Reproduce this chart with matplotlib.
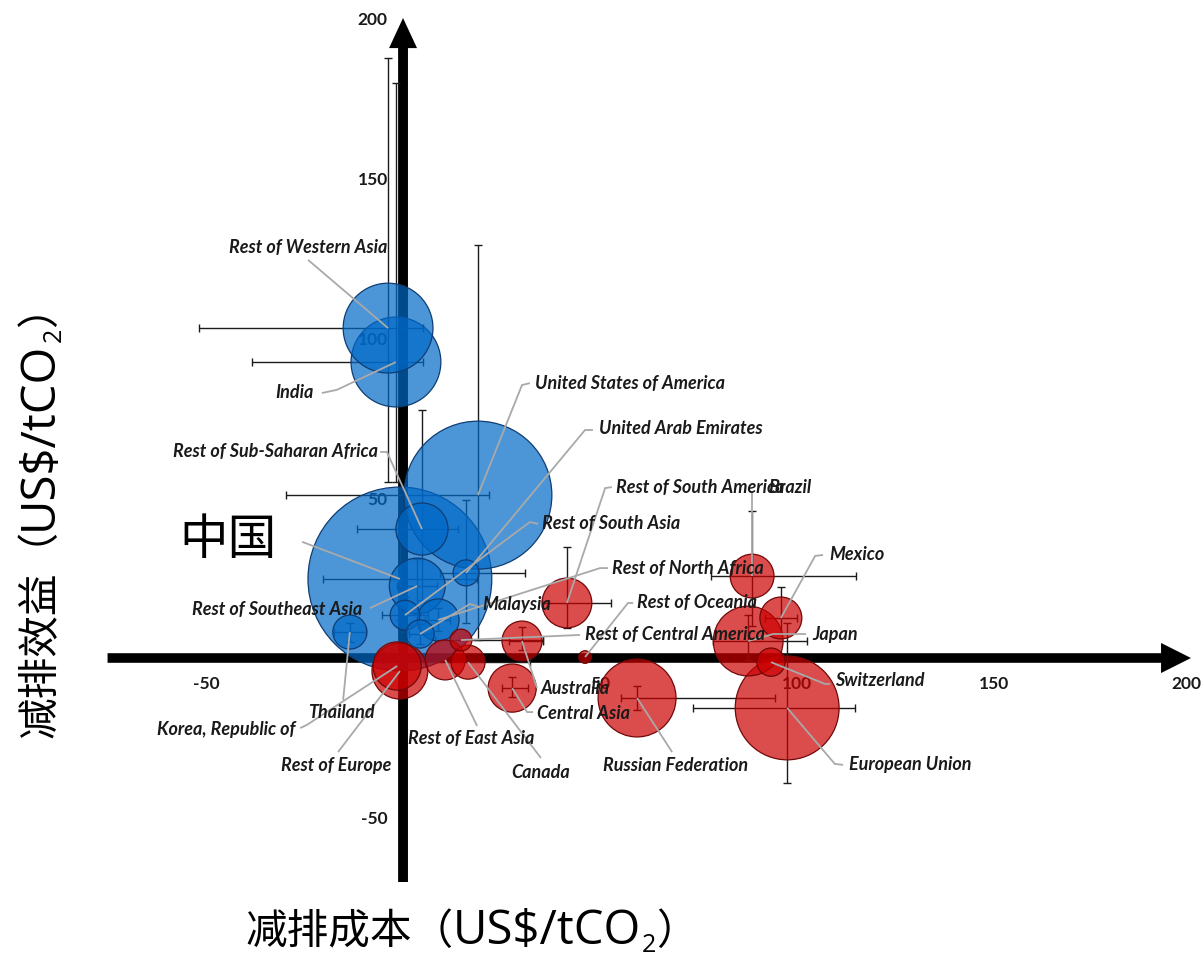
import numpy as np
import matplotlib
matplotlib.use("Agg")
import matplotlib.pyplot as plt
from matplotlib.transforms import ScaledTranslation

plt.rcParams["axes.unicode_minus"] = False

# ---------------------------------------------------------------- data
regions = [
    "Rest of Western Asia", "India", "United States of America", "中国",
    "Rest of Sub-Saharan Africa", "Rest of Southeast Asia", "United Arab Emirates",
    "Rest of South Asia", "Rest of North Africa", "Malaysia", "Thailand",
    "Korea, Republic of", "Rest of Europe", "Rest of East Asia", "Canada",
    "Rest of Central America", "Australia", "Central Asia", "Rest of Oceania",
    "Rest of South America", "Brazil", "Mexico", "Japan", "Switzerland",
    "Russian Federation", "European Union",
]

# abatement cost (US$/tCO2)
cost = [-3.8, -1.8, 19.0, -0.8, 4.8, 3.6, 16.0, 0.5, 8.9, 4.3, -13.5,
        -1.5, -0.8, 10.7, 16.5, 14.7, 30.2, 27.7, 46.2, 41.6, 88.6,
        95.9, 87.6, 93.4, 59.4, 97.5]
cost_low = [-51.8, -38.3, -29.7, -20.3, -11.7, -1.5, 9.4, -5.3, 5.5, 1.5, -17.5,
            np.nan, np.nan, np.nan, 2.5, 8.0, 27.0, 25.0, np.nan, 35.3, 78.2,
            92.0, 78.7, np.nan, 55.3, 73.6]
cost_high = [5.0, 5.0, 21.8, 18.8, 14.0, 8.5, 31.0, 6.3, 12.0, 7.0, -9.5,
             np.nan, np.nan, np.nan, 32.2, 35.5, 35.5, 31.7, np.nan, 52.8, 115.0,
             100.0, 102.5, np.nan, 94.4, 114.7]

# abatement benefit (US$/tCO2)
benefit = [103.1, 92.5, 50.9, 24.7, 40.3, 22.5, 26.6, 13.4, 11.9, 7.5, 8.1,
           -2.5, -4.1, -0.6, -1.3, 5.6, 5.3, -9.4, 0.3, 17.2, 25.6,
           12.5, 5.3, -1.3, -12.5, -15.6]
benefit_low = [55.0, 55.0, 5.6, 12.0, 18.0, 14.0, 10.9, 8.0, 8.5, 4.5, 5.0,
               np.nan, np.nan, np.nan, np.nan, np.nan, 2.5, -12.2, np.nan, 9.4, 10.0,
               7.8, -0.6, np.nan, -16.3, -39.0]
benefit_high = [187.5, 179.7, 129.0, 38.0, 77.5, 31.0, 49.4, 19.0, 15.5, 10.5, 11.0,
                np.nan, np.nan, np.nan, np.nan, np.nan, 9.7, -5.9, np.nan, 34.7, 46.0,
                22.2, 13.4, np.nan, -8.7, 10.9]

# bubble weight (relative abatement volume)
weight = [202, 202, 548, 846, 68, 78, 17, 22, 44, 20, 29,
          58, 78, 40, 29, 12, 40, 58, 4, 62, 48,
          44, 122, 20, 152, 270]

# ------------------------------------------------------- label layout
# (text x, text y, alignment, leader points before reaching the bubble)
label_layout = {
    "Rest of Western Asia": (-24.1, 128.4, "center", [(-24.1, 124.4)]),
    "India": (-22.6, 83.1, "right", [(-20.6, 82.8), (-16.8, 83.8)]),
    "Rest of Sub-Saharan Africa": (-6.3, 64.4, "right", [(-5.8, 64.4), (-4.1, 64.4)]),
    "中国": (-44.4, 36.9, "center", [(-25.6, 36.3)]),
    "Rest of Southeast Asia": (-10.4, 15.3, "right", [(-8.4, 15.6)]),
    "Thailand": (-15.7, -16.9, "center", [(-15.2, -13.1)]),
    "Korea, Republic of": (-27.4, -22.2, "right", [(-26.1, -21.9), (-24.4, -20.9)]),
    "Rest of Europe": (-17.0, -33.75, "center", [(-16.5, -29.4)]),
    "Rest of East Asia": (17.3, -25.3, "center", [(18.8, -21.25)]),
    "Canada": (35.0, -35.9, "center", [(35.0, -31.25)]),
    "Central Asia": (34.0, -17.2, "left", [(33.0, -16.9), (31.5, -16.9)]),
    "Australia": (35.0, -9.4, "left", [(34.0, -9.4)]),
    "Malaysia": (20.05, 16.6, "left", [(19.5, 15.9), (17.0, 16.9)]),
    "Rest of North Africa": (53.0, 28.1, "left", [(52.0, 28.1), (50.0, 28.1)]),
    "Rest of South Asia": (35.3, 41.9, "left", [(34.3, 41.9), (32.2, 42.5)]),
    "United Arab Emirates": (49.7, 71.6, "left", [(48.2, 71.25), (46.2, 71.25)]),
    "United States of America": (33.5, 85.9, "left", [(32.2, 85.9), (30.2, 85.3)]),
    "Rest of South America": (54.1, 53.4, "left", [(53.0, 53.4), (51.3, 53.1)]),
    "Brazil": (92.6, 53.4, "left", [(88.6, 51.6)]),
    "Mexico": (108.1, 32.2, "left", [(106.6, 32.2), (104.6, 31.9)]),
    "Rest of Oceania": (59.4, 17.2, "left", [(58.4, 17.2), (57.1, 17.2)]),
    "Rest of Central America": (46.2, 7.2, "left", [(44.9, 7.2)]),
    "Japan": (103.8, 7.2, "left", [(102.3, 7.5), (94.0, 7.5)]),
    "Switzerland": (109.6, -6.9, "left", [(108.4, -8.1), (107.1, -8.1)]),
    "Russian Federation": (69.3, -33.75, "center", [(68.3, -29.4)]),
    "European Union": (113.2, -33.4, "left", [(111.7, -33.4), (109.6, -33.1)]),
}

xticks = [-50, 0, 50, 100, 150, 200]
yticks = [-50, 0, 50, 100, 150, 200]

# ------------------------------------------------------------ drawing
cost = np.array(cost)
benefit = np.array(benefit)
cost_low, cost_high = np.array(cost_low), np.array(cost_high)
benefit_low, benefit_high = np.array(benefit_low), np.array(benefit_high)
weight = np.array(weight, dtype=float)

LABEL_FONT = dict(family=["Lato", "DejaVu Sans"], fontweight="bold",
                  fontstyle="italic", fontsize=13, color="#1a1a1a")
CJK = ["Noto Sans CJK SC", "DejaVu Sans"]
LATIN = ["Open Sans", "DejaVu Sans"]

fig = plt.figure(figsize=(12.03, 9.57), dpi=100)
ax = fig.add_axes([0, 0, 1, 1])
ax.set_xlim(-102.3, 203.05)
ax.set_ylim(-93.44, 205.63)
ax.patch.set_alpha(0)

for sp in ax.spines.values():
    sp.set_visible(False)
ax.spines["left"].set_position(("data", 0))
ax.spines["bottom"].set_position(("data", 0))
ax.set_xticks(xticks)
ax.set_xticklabels([str(t) for t in xticks])
ax.set_yticks(yticks)
ax.set_yticklabels([str(t) for t in yticks])
ax.tick_params(axis="x", length=0, pad=13)
ax.tick_params(axis="y", length=0, pad=11)
for lab in ax.get_xticklabels() + ax.get_yticklabels():
    lab.set_fontfamily(["Lato", "DejaVu Sans"])
    lab.set_fontweight("bold")
    lab.set_fontsize(12.5)
    lab.set_color("#1a1a1a")
# keep the last x label inside the canvas
last = ax.get_xticklabels()[-1]
last.set_transform(last.get_transform()
                   + ScaledTranslation(-3 / 72, 0, fig.dpi_scale_trans))

# thick arrowed axes
ax.arrow(-75, 0, 275, 0, width=3.0, head_width=9.4, head_length=7.6,
         length_includes_head=True, fc="black", ec="black", lw=0, zorder=1)
ax.arrow(0, -70, 0, 270, width=2.5, head_width=7.1, head_length=9.4,
         length_includes_head=True, fc="black", ec="black", lw=0, zorder=1)

# error bars
ax.errorbar(cost, benefit,
            xerr=np.vstack([cost - cost_low, cost_high - cost]),
            yerr=np.vstack([benefit - benefit_low, benefit_high - benefit]),
            fmt="none", ecolor="#1c1c1c", elinewidth=1.0, capsize=3,
            capthick=1.0, zorder=2)

# bubbles: blue where benefit exceeds cost, red otherwise
net_gain = benefit - cost > 0
face = np.where(net_gain[:, None],
                np.array([[0.0, 0.41, 0.78, 0.70]]),
                np.array([[0.80, 0.0, 0.0, 0.70]]))
edge = np.where(net_gain[:, None],
                np.array([[0.06, 0.24, 0.45, 1.0]]),
                np.array([[0.45, 0.03, 0.03, 1.0]]))
order = np.argsort(-weight)
ax.scatter(cost[order], benefit[order], s=weight[order] * 20.7,
           c=face[order], edgecolors=edge[order], linewidths=0.9, zorder=3)

# labels with leader lines
for i, name in enumerate(regions):
    tx, ty, ha, pts = label_layout[name]
    path = pts + [(cost[i], benefit[i])]
    xs, ys = zip(*path)
    ax.plot(xs, ys, color="#a9a9a9", lw=1.3, zorder=5,
            solid_capstyle="butt", solid_joinstyle="miter")
    if name == "中国":
        ax.text(tx, ty, name, ha=ha, va="center", fontsize=35,
                family=CJK, color="black", zorder=6)
    else:
        ax.text(tx, ty, name, ha=ha, va="center", zorder=6, **LABEL_FONT)

# axis titles: Chinese part, unit, lowered subscript, closing bracket
W, H = 1203.0, 957.0
CJK_SIZE, UNIT_SIZE, SUB_SIZE = 30, 34, 18

x_base, x_sub = 1 - 944 / H, 1 - 952 / H
xa = fig.text(245 / W, x_base, "减排成本（", ha="left", va="baseline",
              fontsize=CJK_SIZE, family=CJK)
xb = ax.annotate("US$/tCO", xy=(1, x_base), xycoords=(xa, "figure fraction"),
                 ha="left", va="baseline", fontsize=UNIT_SIZE, family=LATIN)
xc = ax.annotate("2", xy=(1, x_sub), xycoords=(xb, "figure fraction"),
                 ha="left", va="baseline", fontsize=SUB_SIZE, family=LATIN)
ax.annotate("）", xy=(1, x_base), xycoords=(xc, "figure fraction"),
            ha="left", va="baseline", fontsize=CJK_SIZE, family=CJK)

rot = dict(rotation=90, rotation_mode="anchor", ha="left", va="baseline")
y_base, y_sub = 52 / W, 61 / W
ya = fig.text(y_base, 1 - 738 / H, "减排效益（", fontsize=CJK_SIZE,
              family=CJK, **rot)
yb = ax.annotate("US$/tCO", xy=(y_base, 1), xycoords=("figure fraction", ya),
                 fontsize=UNIT_SIZE, family=LATIN, **rot)
yc = ax.annotate("2", xy=(y_sub, 1), xycoords=("figure fraction", yb),
                 fontsize=SUB_SIZE, family=LATIN, **rot)
ax.annotate("）", xy=(y_base, 1), xycoords=("figure fraction", yc),
            fontsize=CJK_SIZE, family=CJK, **rot)

fig.savefig("out.png", dpi=100)
